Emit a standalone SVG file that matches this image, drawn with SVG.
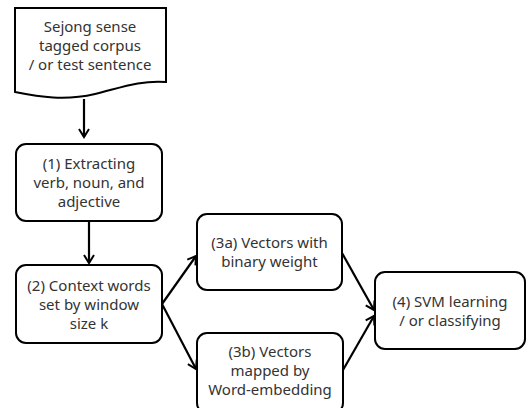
<svg xmlns="http://www.w3.org/2000/svg" width="526" height="408" viewBox="0 0 526 408">
<defs>
<marker id="ah" viewBox="0 0 12 12" refX="10" refY="6" markerWidth="12" markerHeight="12" markerUnits="userSpaceOnUse" orient="auto">
<polyline points="2,1 10,6 2,11" fill="none" stroke="#000" stroke-width="2"/>
</marker>
<style>
.box{fill:#fff;stroke:#000;stroke-width:2}
.t{font-family:"Noto Sans","Liberation Sans",sans-serif;font-size:15px;fill:#333;text-anchor:middle}
.c{fill:none;stroke:#000;stroke-width:2.2;marker-end:url(#ah)}
</style>
</defs>
<rect width="526" height="408" fill="#fff"/>
<g id="connectors">
<line class="c" x1="84" y1="99" x2="84" y2="137"/>
<line class="c" x1="89" y1="221" x2="89" y2="263"/>
<line class="c" x1="162" y1="304" x2="196" y2="256"/>
<line class="c" x1="162" y1="304" x2="196" y2="369"/>
<line class="c" x1="342" y1="253" x2="374" y2="310"/>
<line class="c" x1="343" y1="370" x2="374" y2="316"/>
</g>
<g id="n0">
<path class="box" d="M15,8 H166 V82 C140,80 120,88 95,94 C65,101 40,97 15,92 Z"/>
<text class="t" x="90" y="32">Sejong sense</text>
<text class="t" x="90" y="51">tagged corpus</text>
<text class="t" x="90" y="70">/ or test sentence</text>
</g>
<g id="n1">
<rect class="box" x="16" y="144" width="146" height="77" rx="10"/>
<text class="t" x="89" y="169">(1) Extracting</text>
<text class="t" x="89" y="188">verb, noun, and</text>
<text class="t" x="89" y="207">adjective</text>
</g>
<g id="n2">
<rect class="box" x="16" y="265" width="146" height="78" rx="10"/>
<text class="t" x="89" y="291">(2) Context words</text>
<text class="t" x="89" y="310">set by window</text>
<text class="t" x="89" y="329">size k</text>
</g>
<g id="n3a">
<rect class="box" x="197" y="214" width="145" height="76" rx="10"/>
<text class="t" x="269.5" y="248">(3a) Vectors with</text>
<text class="t" x="269.5" y="267">binary weight</text>
</g>
<g id="n3b">
<rect class="box" x="197" y="333" width="146" height="80" rx="10"/>
<text class="t" x="270" y="357">(3b) Vectors</text>
<text class="t" x="270" y="376">mapped by</text>
<text class="t" x="270" y="395">Word-embedding</text>
</g>
<g id="n4">
<rect class="box" x="375" y="272" width="150" height="77" rx="10"/>
<text class="t" x="450" y="307">(4) SVM learning</text>
<text class="t" x="450" y="326">/ or classifying</text>
</g>
</svg>
